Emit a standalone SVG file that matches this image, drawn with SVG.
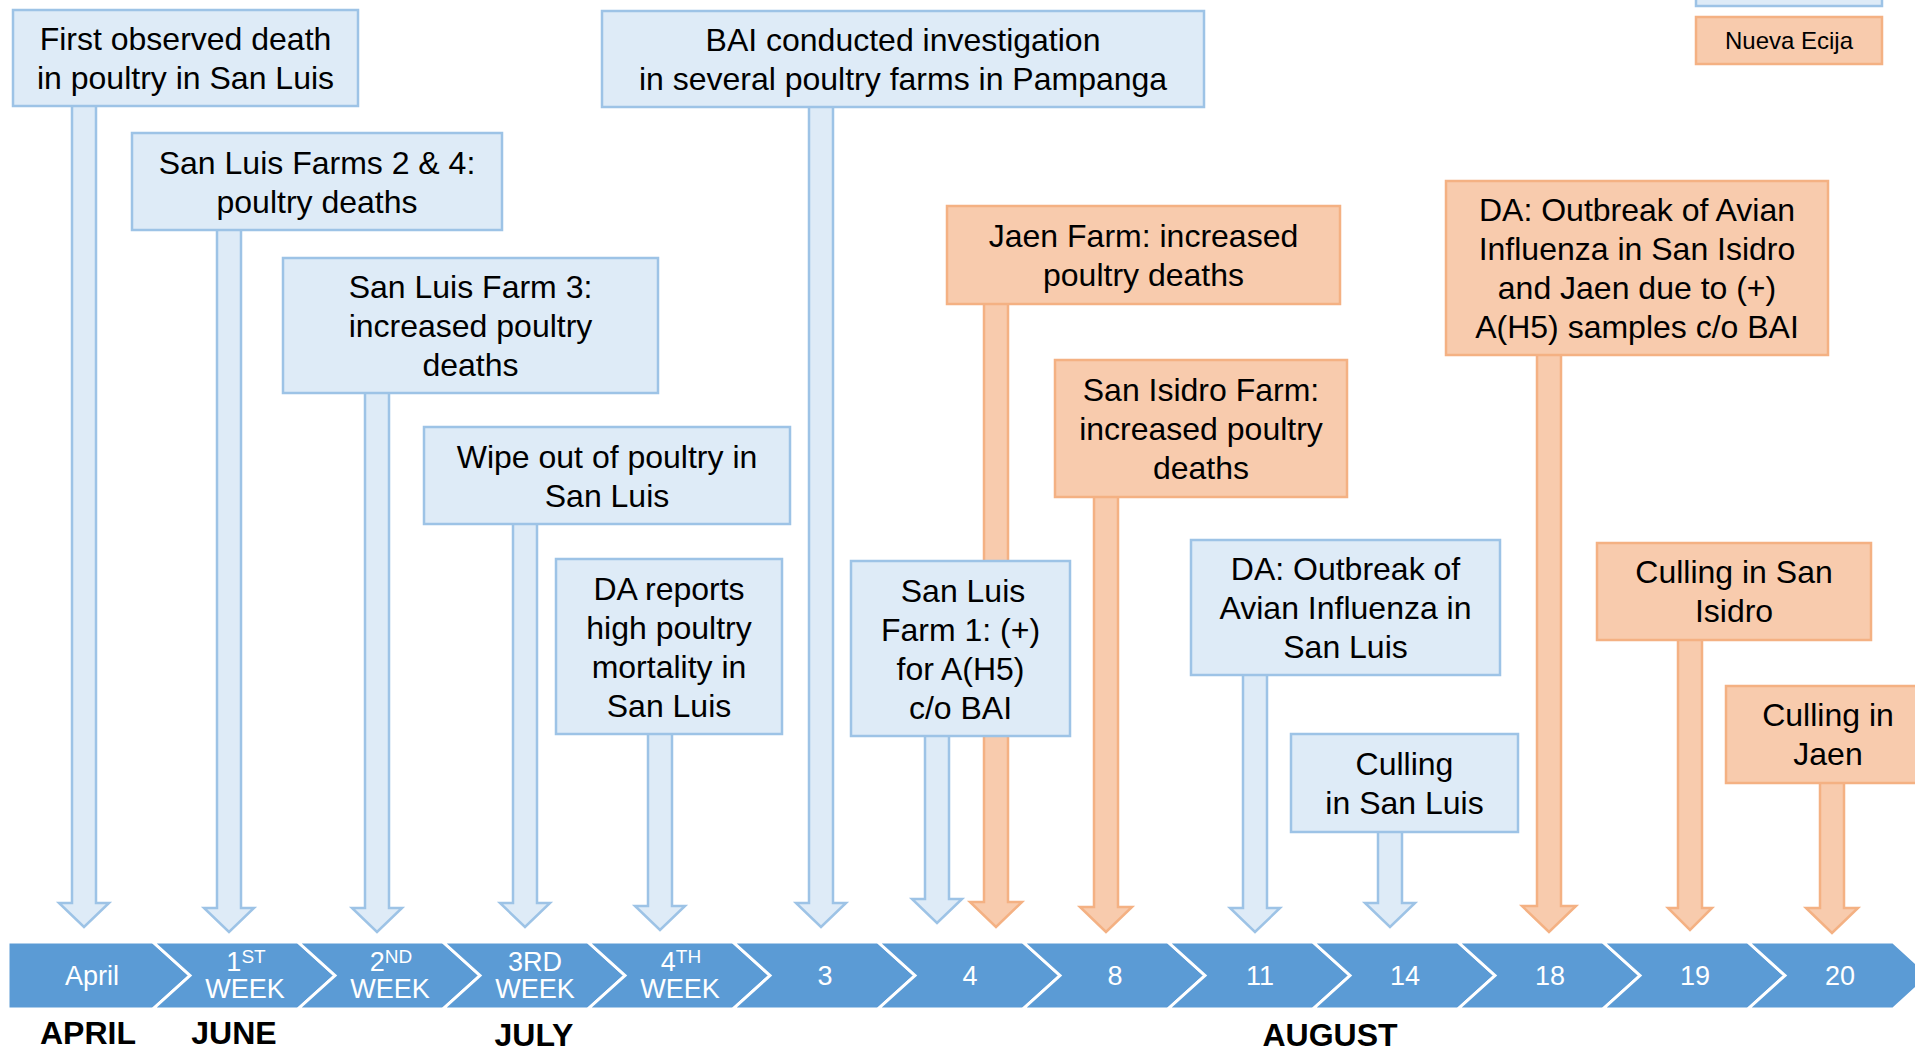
<svg xmlns="http://www.w3.org/2000/svg" width="1915" height="1052" viewBox="0 0 1915 1052">
<defs>
<style>
.bb{fill:#DEEBF7;stroke:#9DC3E6;stroke-width:2.5}
.ob{fill:#F8CBAD;stroke:#F4B183;stroke-width:2.5}
.t{font-family:"Liberation Sans",Arial,sans-serif;font-size:32px;fill:#000;text-anchor:middle}
.lg{font-family:"Liberation Sans",Arial,sans-serif;font-size:24px;fill:#000;text-anchor:middle}
.bl{font-family:"Liberation Sans",Arial,sans-serif;font-size:27px;fill:#fff;text-anchor:middle}
.mo{font-family:"Liberation Sans",Arial,sans-serif;font-size:32px;font-weight:bold;fill:#000;text-anchor:middle}
.chev{fill:#5B9BD5;stroke:#fff;stroke-width:3;stroke-linejoin:miter}
.sup{font-size:19px}
</style>
</defs>
<rect width="1915" height="1052" fill="#fff"/>

<g id="timeline">
<polygon class="chev" points="8,942 153,942 190,975.5 153,1009 8,1009"/>
<polygon class="chev" points="153,942 298,942 335,975.5 298,1009 153,1009 190,975.5"/>
<polygon class="chev" points="298,942 443,942 480,975.5 443,1009 298,1009 335,975.5"/>
<polygon class="chev" points="443,942 588,942 625,975.5 588,1009 443,1009 480,975.5"/>
<polygon class="chev" points="588,942 733,942 770,975.5 733,1009 588,1009 625,975.5"/>
<polygon class="chev" points="733,942 878,942 915,975.5 878,1009 733,1009 770,975.5"/>
<polygon class="chev" points="878,942 1023,942 1060,975.5 1023,1009 878,1009 915,975.5"/>
<polygon class="chev" points="1023,942 1168,942 1205,975.5 1168,1009 1023,1009 1060,975.5"/>
<polygon class="chev" points="1168,942 1313,942 1350,975.5 1313,1009 1168,1009 1205,975.5"/>
<polygon class="chev" points="1313,942 1458,942 1495,975.5 1458,1009 1313,1009 1350,975.5"/>
<polygon class="chev" points="1458,942 1603,942 1640,975.5 1603,1009 1458,1009 1495,975.5"/>
<polygon class="chev" points="1603,942 1748,942 1785,975.5 1748,1009 1603,1009 1640,975.5"/>
<polygon class="chev" points="1748,942 1893,942 1930,975.5 1893,1009 1748,1009 1785,975.5"/>
<text class="bl" x="92" y="985">April</text>
<text class="bl" x="246" y="971">1<tspan class="sup" dy="-8">ST</tspan></text>
<text class="bl" x="245" y="998">WEEK</text>
<text class="bl" x="391" y="971">2<tspan class="sup" dy="-8">ND</tspan></text>
<text class="bl" x="390" y="998">WEEK</text>
<text class="bl" x="535" y="971">3RD</text>
<text class="bl" x="535" y="998">WEEK</text>
<text class="bl" x="681" y="971">4<tspan class="sup" dy="-8">TH</tspan></text>
<text class="bl" x="680" y="998">WEEK</text>
<text class="bl" x="825" y="985">3</text>
<text class="bl" x="970" y="985">4</text>
<text class="bl" x="1115" y="985">8</text>
<text class="bl" x="1260" y="985">11</text>
<text class="bl" x="1405" y="985">14</text>
<text class="bl" x="1550" y="985">18</text>
<text class="bl" x="1695" y="985">19</text>
<text class="bl" x="1840" y="985">20</text>
<text class="mo" x="88" y="1044">APRIL</text>
<text class="mo" x="234" y="1044">JUNE</text>
<text class="mo" x="534" y="1046">JULY</text>
<text class="mo" x="1330" y="1046">AUGUST</text>
</g>

<g id="connectors">
<polygon class="bb" points="72,104 96,104 96,903 109,903 84,927 59,903 72,903"/>
<polygon class="bb" points="217,228 241,228 241,908 254,908 229,932 204,908 217,908"/>
<polygon class="bb" points="365,391 389,391 389,908 402,908 377,932 352,908 365,908"/>
<polygon class="bb" points="513,522 537,522 537,903 550,903 525,927 500,903 513,903"/>
<polygon class="bb" points="648,732 672,732 672,906 685,906 660,930 635,906 648,906"/>
<polygon class="bb" points="809,105 833,105 833,903 846,903 821,927 796,903 809,903"/>
<polygon class="bb" points="925,734 949,734 949,899 962,899 937,923 912,899 925,899"/>
<polygon class="ob" points="984,302 1008,302 1008,902 1022,902 996,927 970,902 984,902"/>
<polygon class="ob" points="1094,495 1118,495 1118,907 1132,907 1106,932 1080,907 1094,907"/>
<polygon class="bb" points="1243,673 1267,673 1267,908 1280,908 1255,932 1230,908 1243,908"/>
<polygon class="bb" points="1378,830 1402,830 1402,903 1415,903 1390,927 1365,903 1378,903"/>
<polygon class="ob" points="1537,353 1561,353 1561,906 1576,906 1549,932 1522,906 1537,906"/>
<polygon class="ob" points="1678,638 1702,638 1702,908 1712,908 1690,930 1668,908 1678,908"/>
<polygon class="ob" points="1820,781 1844,781 1844,908 1858,908 1832,933 1806,908 1820,908"/>
</g>

<g id="legend">
<rect class="bb" x="1696" y="-50" width="186" height="56"/>
<rect class="ob" x="1696" y="17" width="186" height="47"/>
<text class="lg" x="1789" y="49">Nueva Ecija</text>
</g>

<g id="n1"><rect class="bb" x="13" y="10" width="345" height="96"/>
<text class="t" x="185.5" y="50">First observed death</text><text class="t" x="185.5" y="89">in poultry in San Luis</text></g>

<g id="n2"><rect class="bb" x="132" y="133" width="370" height="97"/>
<text class="t" x="317" y="173.5">San Luis Farms 2 &amp; 4:</text><text class="t" x="317" y="212.5">poultry deaths</text></g>

<g id="n3"><rect class="bb" x="283" y="258" width="375" height="135"/>
<text class="t" x="470.5" y="298">San Luis Farm 3:</text><text class="t" x="470.5" y="337">increased poultry</text><text class="t" x="470.5" y="376">deaths</text></g>

<g id="n4"><rect class="bb" x="424" y="427" width="366" height="97"/>
<text class="t" x="607" y="467.5">Wipe out of poultry in</text><text class="t" x="607" y="506.5">San Luis</text></g>

<g id="n5"><rect class="bb" x="556" y="559" width="226" height="175"/>
<text class="t" x="669" y="599.5">DA reports</text><text class="t" x="669" y="638.5">high poultry</text><text class="t" x="669" y="677.5">mortality in</text><text class="t" x="669" y="716.5">San Luis</text></g>

<g id="n6"><rect class="bb" x="602" y="11" width="602" height="96"/>
<text class="t" x="903" y="51">BAI conducted investigation</text><text class="t" x="903" y="90">in several poultry farms in Pampanga</text></g>

<g id="n7"><rect class="bb" x="851" y="561" width="219" height="175"/>
<text class="t" x="963" y="601.5">San Luis</text><text class="t" x="960.5" y="640.5">Farm 1: (+)</text><text class="t" x="960.5" y="679.5">for A(H5)</text><text class="t" x="960.5" y="718.5">c/o BAI</text></g>

<g id="n8"><rect class="ob" x="947" y="206" width="393" height="98"/>
<text class="t" x="1143.5" y="247">Jaen Farm: increased</text><text class="t" x="1143.5" y="286">poultry deaths</text></g>

<g id="n9"><rect class="ob" x="1055" y="360" width="292" height="137"/>
<text class="t" x="1201" y="401">San Isidro Farm:</text><text class="t" x="1201" y="440">increased poultry</text><text class="t" x="1201" y="479">deaths</text></g>

<g id="n10"><rect class="bb" x="1191" y="540" width="309" height="135"/>
<text class="t" x="1345.5" y="580">DA: Outbreak of</text><text class="t" x="1345.5" y="619">Avian Influenza in</text><text class="t" x="1345.5" y="658">San Luis</text></g>

<g id="n11"><rect class="bb" x="1291" y="734" width="227" height="98"/>
<text class="t" x="1404.5" y="775">Culling</text><text class="t" x="1404.5" y="814">in San Luis</text></g>

<g id="n12"><rect class="ob" x="1446" y="181" width="382" height="174"/>
<text class="t" x="1637" y="221">DA: Outbreak of Avian</text><text class="t" x="1637" y="260">Influenza in San Isidro</text><text class="t" x="1637" y="299">and Jaen due to (+)</text><text class="t" x="1637" y="338">A(H5) samples c/o BAI</text></g>

<g id="n13"><rect class="ob" x="1597" y="543" width="274" height="97"/>
<text class="t" x="1734" y="583">Culling in San</text><text class="t" x="1734" y="622">Isidro</text></g>

<g id="n14"><rect class="ob" x="1726" y="686" width="204" height="97"/>
<text class="t" x="1828" y="726">Culling in</text><text class="t" x="1828" y="765">Jaen</text></g>
</svg>
